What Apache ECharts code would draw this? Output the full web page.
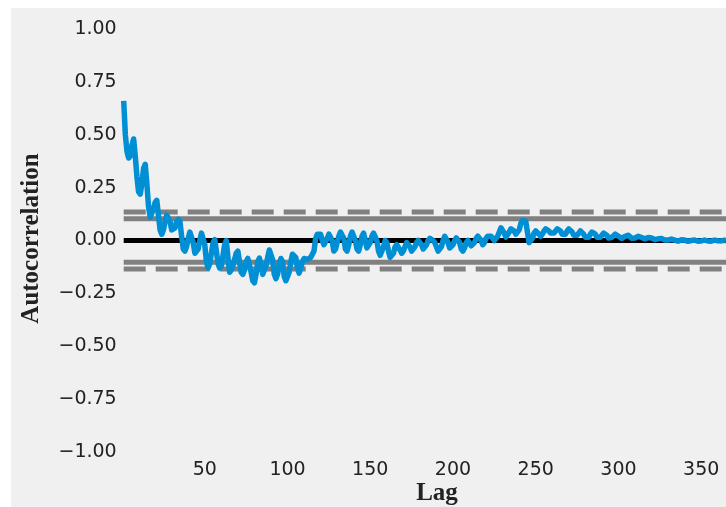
<!DOCTYPE html>
<html>
<head>
<meta charset="utf-8">
<script src="https://cdn.jsdelivr.net/npm/echarts@6/dist/echarts.min.js"></script>
<style>
html,body{margin:0;padding:0;background:#ffffff;width:726px;height:507px;overflow:hidden;}
#chart{position:absolute;left:11px;top:8px;width:715px;height:499px;background:#f0f0f0;}
</style>
</head>
<body>
<div id="chart"></div>
<script>
// Autocorrelation values for lags 1..365
const acf = [
0.66,0.50,0.42,0.39,0.40,0.45,0.48,
0.40,0.30,0.23,0.22,0.27,0.34,0.36,
0.27,0.16,0.11,0.11,0.15,0.18,0.19,
0.12,0.05,0.03,0.05,0.09,0.12,0.12,
0.09,0.05,0.045,0.06,0.09,0.10,0.09,
0.02,-0.04,-0.05,-0.03,0.01,0.04,0.045,
-0.01,-0.06,-0.067,-0.04,0.0,0.035,0.04,
-0.02,-0.10,-0.13,-0.11,-0.06,-0.01,0.004,
-0.05,-0.11,-0.13,-0.12,-0.07,-0.02,0.0,
-0.08,-0.15,-0.14,-0.12,-0.09,-0.06,-0.05,
-0.10,-0.15,-0.16,-0.14,-0.10,-0.085,-0.09,
-0.15,-0.19,-0.20,-0.16,-0.10,-0.083,-0.12,
-0.16,-0.16,-0.12,-0.08,-0.045,-0.036,-0.09,
-0.16,-0.18,-0.16,-0.11,-0.085,-0.10,-0.17,
-0.19,-0.19,-0.15,-0.10,-0.065,-0.06,-0.08,
-0.13,-0.154,-0.13,-0.10,-0.085,-0.083,-0.09,
-0.085,-0.08,-0.08,-0.05,0.01,0.03,0.036,
0.03,0.0,-0.02,-0.02,0.01,0.03,0.036,
0.0,-0.05,-0.04,-0.01,0.02,0.04,0.044,
0.01,-0.04,-0.05,-0.02,0.02,0.04,0.04,
0.0,-0.04,-0.05,-0.02,0.02,0.035,0.0,
-0.035,-0.04,-0.01,0.02,0.035,0.035,0.0,
-0.05,-0.07,-0.07,-0.03,0.0,-0.01,-0.05,
-0.08,-0.08,-0.06,-0.03,-0.02,-0.02,-0.045,
-0.06,-0.05,-0.03,-0.01,-0.01,-0.03,-0.05,
-0.05,-0.03,-0.01,0.0,0.0,-0.02,-0.04,
-0.04,-0.02,0.0,0.01,0.01,0.0,-0.01,
-0.03,-0.05,-0.055,-0.03,0.0,0.02,0.02,
-0.01,-0.035,-0.04,-0.02,0.0,0.012,0.012,
-0.01,-0.04,-0.05,-0.035,-0.01,0.0,-0.005,
-0.025,-0.03,-0.01,0.01,0.02,0.02,0.0,
-0.02,-0.01,0.01,0.02,0.02,0.02,0.01,
0.0,0.0,0.02,0.04,0.06,0.06,0.035,
0.016,0.02,0.04,0.055,0.055,0.045,0.03,
0.03,0.05,0.08,0.095,0.10,0.09,0.04,
-0.01,-0.01,0.01,0.035,0.045,0.04,0.03,
0.02,0.03,0.045,0.055,0.055,0.045,0.035,
0.03,0.035,0.045,0.055,0.055,0.045,0.03,
0.025,0.03,0.045,0.055,0.055,0.04,0.025,
0.02,0.025,0.035,0.045,0.045,0.03,0.015,
0.01,0.015,0.03,0.04,0.04,0.03,0.015,
0.01,0.015,0.025,0.035,0.035,0.025,0.012,
0.01,0.015,0.022,0.03,0.03,0.02,0.012,
0.01,0.013,0.02,0.025,0.025,0.018,0.01,
0.01,0.012,0.017,0.02,0.02,0.014,0.008,
0.008,0.01,0.014,0.015,0.012,0.007,0.004,
0.005,0.008,0.01,0.01,0.006,0.002,0.0,
0.002,0.005,0.007,0.006,0.002,-0.002,-0.003,
0.0,0.003,0.004,0.002,-0.002,-0.004,-0.003,
0.0,0.002,0.002,0.0,-0.003,-0.004,-0.002,
0.0,0.002,0.001,-0.002,-0.004,-0.003,0.0,
0.002,0.001,-0.001,-0.003,-0.002,0.0,0.001,
0.0
];
// confidence bands (99% dashed, 95% solid)
const band99 = 0.1348;
const band95 = 0.1026;
const xTicks = [50, 100, 150, 200, 250, 300, 350];
const yTicks = [-1.0, -0.75, -0.5, -0.25, 0.0, 0.25, 0.5, 0.75, 1.0];
const xLabel = 'Lag';
const yLabel = 'Autocorrelation';

const nLag = acf.length;
const seriesData = acf.map((v, i) => [i + 1, v]);
const hline = (y) => [[1, y], [nLag, y]];

const chart = echarts.init(document.getElementById('chart'), null, {renderer: 'canvas'});
chart.setOption({
  animation: false,
  backgroundColor: '#f0f0f0',
  grid: {left: 112.7, right: -2, top: 21, bottom: 55},
  xAxis: {
    type: 'value', min: 1, max: nLag,
    axisLine: {show: false}, axisTick: {show: false}, splitLine: {show: false},
    axisLabel: {
      customValues: xTicks,
      fontFamily: 'DejaVu Sans', fontSize: 19, color: '#222', margin: 9
    }
  },
  yAxis: {
    type: 'value', min: -1, max: 1, interval: 0.25,
    axisLine: {show: false}, axisTick: {show: false}, splitLine: {show: false},
    axisLabel: {
      customValues: yTicks,
      fontFamily: 'DejaVu Sans', fontSize: 19, color: '#222', margin: 7,
      formatter: (v) => (v < 0 ? '\u2212' : '') + Math.abs(v).toFixed(2)
    }
  },
  graphic: [
    {type: 'text', x: 21, y: 230.5, rotation: Math.PI / 2,
     style: {text: yLabel, font: 'bold 25px "Liberation Serif"', fill: '#222', align: 'center', verticalAlign: 'middle'}},
    {type: 'text', x: 426, y: 486,
     style: {text: xLabel, font: 'bold 25px "Liberation Serif"', fill: '#222', align: 'center', verticalAlign: 'middle'}}
  ],
  series: [
    {type: 'line', data: hline(band99), symbol: 'none', silent: true,
     lineStyle: {color: '#808080', width: 5, type: [22, 10]}},
    {type: 'line', data: hline(band95), symbol: 'none', silent: true,
     lineStyle: {color: '#808080', width: 5}},
    {type: 'line', data: hline(0), symbol: 'none', silent: true,
     lineStyle: {color: '#000000', width: 5}},
    {type: 'line', data: hline(-band95), symbol: 'none', silent: true,
     lineStyle: {color: '#808080', width: 5}},
    {type: 'line', data: hline(-band99), symbol: 'none', silent: true,
     lineStyle: {color: '#808080', width: 5, type: [22, 10]}},
    {type: 'line', data: seriesData, symbol: 'none', silent: true,
     lineStyle: {color: '#008fd5', width: 5.5, join: 'round'}}
  ]
});
</script>
</body>
</html>
